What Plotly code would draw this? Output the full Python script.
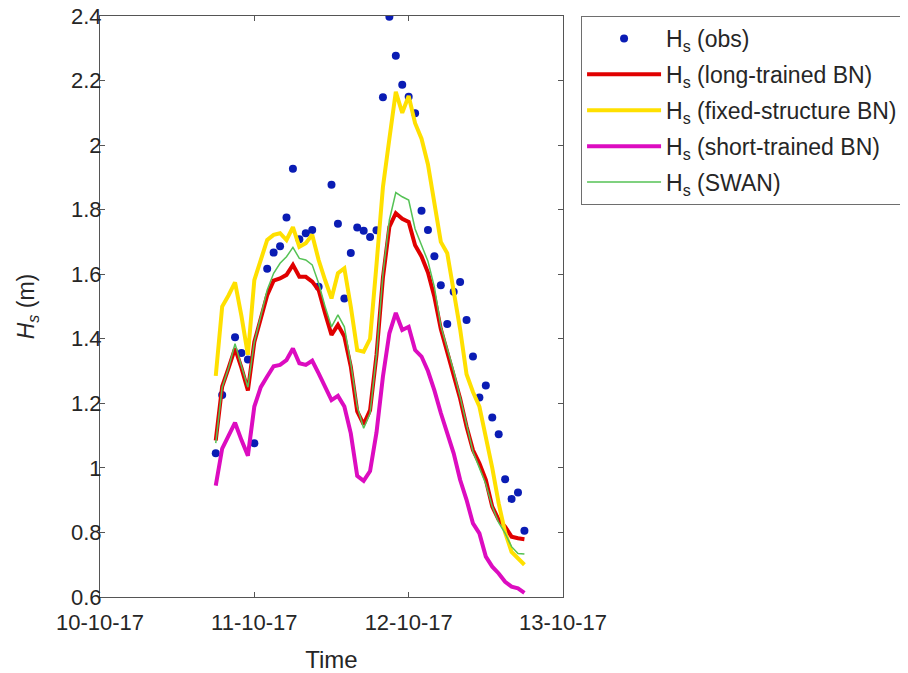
import pandas as pd
import plotly.graph_objects as go

# Hourly time stamps (10-10-2017 18:00 to 12-10-2017 18:00)
times = pd.date_range("2017-10-10 18:00", periods=49, freq="h")

hs_obs = [1.045, 1.226, None, 1.405, 1.356, 1.336,
          1.076, None, 1.617, 1.667, 1.687, 1.776, 1.927, 1.708, 1.727, 1.737,
          1.561, None, 1.877, 1.756, 1.525, 1.666, 1.745, 1.735, 1.715, 1.736,
          2.148, 2.398, 2.277, 2.187,
          2.150, 2.099, 1.797, 1.737, 1.656, 1.566, 1.446, 1.546, 1.576, 1.458,
          1.345, 1.218, 1.255, 1.156, 1.104, 0.965, 0.904, 0.924, 0.805]

hs_long = [1.085, 1.252, 1.310, 1.370, 1.310, 1.240, 1.390, 1.465, 1.535, 1.580,
           1.587, 1.598, 1.629, 1.592, 1.592, 1.577, 1.551, 1.479, 1.412, 1.443,
           1.407, 1.314, 1.175, 1.135, 1.179, 1.350, 1.590, 1.747, 1.789, 1.772,
           1.762, 1.690, 1.655, 1.605, 1.530, 1.430, 1.360, 1.293, 1.215, 1.128,
           1.055, 1.014, 0.963, 0.880, 0.839, 0.818, 0.787, 0.782, 0.779]

hs_fixed = [1.285, 1.500, 1.535, 1.575, 1.470, 1.350, 1.582, 1.640, 1.706, 1.722,
            1.727, 1.706, 1.746, 1.685, 1.696, 1.722, 1.644, 1.582, 1.525, 1.603,
            1.618, 1.500, 1.365, 1.360, 1.400, 1.630, 1.870, 2.020, 2.165, 2.100,
            2.152, 2.068, 2.020, 1.940, 1.810, 1.700, 1.665, 1.550, 1.430, 1.290,
            1.235, 1.190, 1.100, 1.000, 0.890, 0.800, 0.740, 0.720, 0.700]

hs_short = [0.945, 1.060, 1.100, 1.140, 1.086, 1.038, 1.190, 1.250, 1.283, 1.315,
            1.319, 1.334, 1.370, 1.324, 1.319, 1.332, 1.293, 1.252, 1.210, 1.223,
            1.190, 1.107, 0.975, 0.960, 0.990, 1.110, 1.283, 1.417, 1.480, 1.427,
            1.437, 1.365, 1.345, 1.300, 1.240, 1.170, 1.110, 1.045, 0.963, 0.901,
            0.828, 0.797, 0.725, 0.694, 0.673, 0.647, 0.632, 0.627, 0.613]

hs_swan = [1.077, 1.250, 1.310, 1.385, 1.315, 1.250, 1.390, 1.470, 1.551, 1.603,
           1.634, 1.654, 1.683, 1.649, 1.644, 1.629, 1.572, 1.500, 1.437, 1.474,
           1.437, 1.324, 1.190, 1.123, 1.169, 1.350, 1.600, 1.768, 1.853, 1.840,
           1.830, 1.740, 1.690, 1.640, 1.560, 1.440, 1.370, 1.300, 1.220, 1.130,
           1.050, 1.000, 0.950, 0.880, 0.830, 0.797, 0.756, 0.735, 0.733]

x_tick_vals = ["2017-10-10", "2017-10-11", "2017-10-12", "2017-10-13"]
x_tick_text = ["10-10-17", "11-10-17", "12-10-17", "13-10-17"]
y_tick_vals = [0.6, 0.8, 1.0, 1.2, 1.4, 1.6, 1.8, 2.0, 2.2, 2.4]
y_tick_text = ["0.6", "0.8", "1", "1.2", "1.4", "1.6", "1.8", "2", "2.2", "2.4"]

FONT = "Arial, Liberation Sans, sans-serif"

fig = go.Figure()
fig.add_trace(go.Scatter(x=times, y=hs_obs, mode="markers", name="H<sub>s</sub> (obs)",
                         marker=dict(color="#0a1cb4", size=8), legendgroup="a"))
fig.add_trace(go.Scatter(x=times, y=hs_long, mode="lines", name="H<sub>s</sub> (long-trained BN)",
                         line=dict(color="#e00000", width=4), legendgroup="b"))
fig.add_trace(go.Scatter(x=times, y=hs_fixed, mode="lines", name="H<sub>s</sub> (fixed-structure BN)",
                         line=dict(color="#ffe000", width=4), legendgroup="c"))
fig.add_trace(go.Scatter(x=times, y=hs_short, mode="lines", name="H<sub>s</sub> (short-trained BN)",
                         line=dict(color="#dc0cc0", width=4), legendgroup="d"))
fig.add_trace(go.Scatter(x=times, y=hs_swan, mode="lines", name="H<sub>s</sub> (SWAN)",
                         line=dict(color="#55c255", width=1.5), legendgroup="e"))

fig.update_layout(
    width=908, height=673,
    margin=dict(l=92, r=353, t=8, b=84, autoexpand=False),
    paper_bgcolor="white", plot_bgcolor="white",
    font=dict(family=FONT, size=22, color="#262626"),
    showlegend=True,
    legend=dict(x=1.039, y=1.0, xanchor="left", yanchor="top",
                bordercolor="#6e6e6e", borderwidth=1, bgcolor="white",
                font=dict(family=FONT, size=23, color="#262626"),
                tracegroupgap=3, itemwidth=74),
)
fig.update_xaxes(
    range=["2017-10-10", "2017-10-13"],
    tickvals=x_tick_vals, ticktext=x_tick_text,
    ticks="inside", ticklen=5, tickcolor="#555555",
    showline=True, linecolor="#555555", linewidth=1, mirror="ticks",
    showgrid=False, zeroline=False, automargin=False,
    tickfont=dict(size=22), ticklabelstandoff=6, ticklabeloverflow="allow",
    title=dict(text="Time", font=dict(size=24), standoff=16),
)
fig.update_yaxes(
    range=[0.6, 2.4],
    tickvals=y_tick_vals, ticktext=y_tick_text,
    ticks="inside", ticklen=5, tickcolor="#555555",
    showline=True, linecolor="#555555", linewidth=1, mirror="ticks",
    showgrid=False, zeroline=False, automargin=False,
    tickfont=dict(size=22), ticklabelstandoff=-7, ticklabeloverflow="allow",
    title=dict(text="<i>H<sub>s</sub></i> (m)", font=dict(size=23), standoff=29),
)

fig.write_html("out.html")
